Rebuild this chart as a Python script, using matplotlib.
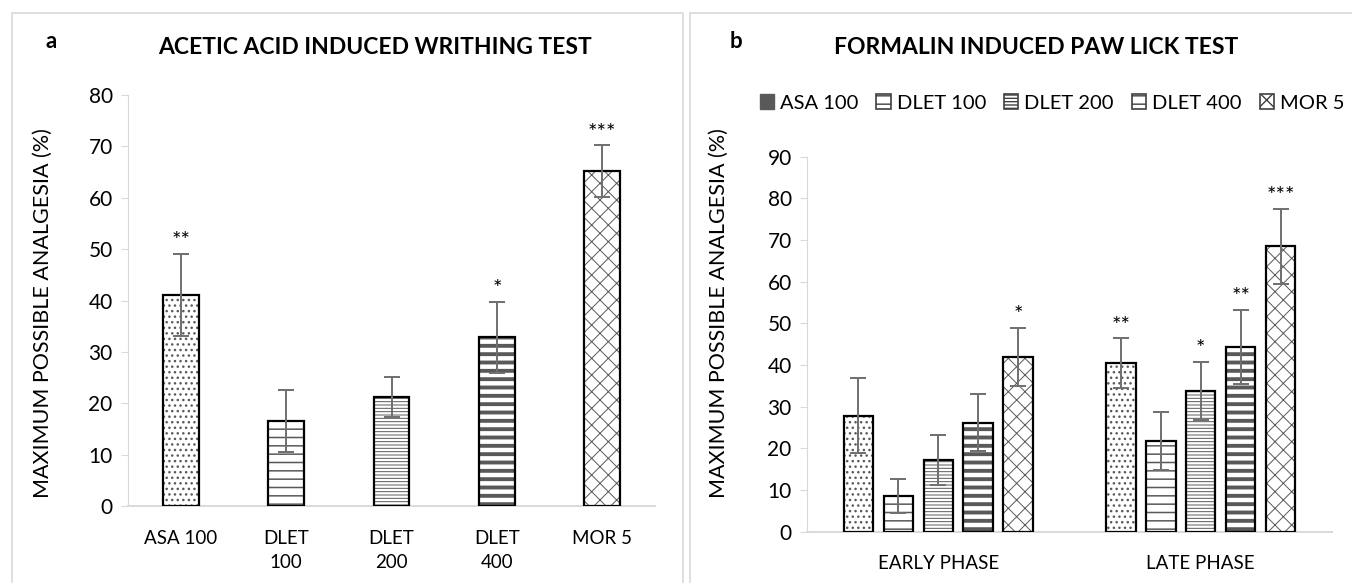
import matplotlib.pyplot as plt
import numpy as np
from matplotlib.patches import Patch, Rectangle

plt.rcParams.update(
    {
        "font.family": ["Lato", "DejaVu Sans"],
        "font.size": 14,
        "hatch.color": "#595959",
    }
)

# ---- data -------------------------------------------------------------
groups_a = ["ASA 100", "DLET\n100", "DLET\n200", "DLET\n400", "MOR 5"]
mpa_a = [41.1, 16.5, 21.3, 32.8, 65.2]
sem_a = [8.0, 6.0, 3.9, 7.0, 5.0]
sig_a = ["**", "", "", "*", "***"]

phases_b = ["EARLY PHASE", "LATE PHASE"]
treatments_b = ["ASA 100", "DLET 100", "DLET 200", "DLET 400", "MOR 5"]
early_mpa = [27.8, 8.6, 17.2, 26.2, 41.9]
early_sem = [9.0, 4.1, 6.0, 6.9, 7.0]
late_mpa = [40.4, 21.8, 33.8, 44.3, 68.5]
late_sem = [6.0, 7.0, 7.0, 8.9, 9.0]
early_sig = ["", "", "", "", "*"]
late_sig = ["**", "", "*", "**", "***"]

# ---- styles (one per treatment) ----------------------------------------
# (hatch, hatch linewidth)
patterns = [
    ("...", 1.0),
    ("--", 1.1),
    ("-----", 0.7),
    ("--", 2.8),
    ("xx", 0.7),
]
GRID_GREY = "#d9d9d9"
ERR_GREY = "#6f6f6f"


def hatched_bar(ax, x, h, w, style):
    hatch, hlw = style
    with plt.rc_context({"hatch.linewidth": hlw}):
        bars = ax.bar(x, h, w, color="white", edgecolor="#595959",
                      linewidth=0, hatch=hatch, zorder=2)
    for b in bars:
        if hasattr(b, "set_hatch_linewidth"):
            b.set_hatch_linewidth(hlw)
    ax.bar(x, h, w, fill=False, edgecolor="black", linewidth=1.6, zorder=3)


def style_axis(ax, ymax):
    ax.set_ylim(0, ymax)
    ax.set_yticks(np.arange(0, ymax + 1, 10))
    for s in ["top", "right"]:
        ax.spines[s].set_visible(False)
    ax.spines["left"].set_color(GRID_GREY)
    ax.spines["bottom"].set_color(GRID_GREY)
    ax.spines["bottom"].set_linewidth(1.4)
    ax.tick_params(axis="y", length=5, color=GRID_GREY, labelsize=15, pad=6)
    ax.tick_params(axis="x", length=0, labelsize=13.5, pad=17)
    ax.set_ylabel("MAXIMUM POSSIBLE ANALGESIA (%)", fontsize=15.5)


def stars(ax, x, top, label):
    if label:
        ax.annotate(label, (x, top), xytext=(0, 2), textcoords="offset points",
                    ha="center", va="bottom", fontsize=16, zorder=5)


fig = plt.figure(figsize=(13.52, 5.83), dpi=100)

# panel borders
fig.patches.append(Rectangle((12 / 1352, -0.1), 671 / 1352, 1.1 - 13 / 583,
                             transform=fig.transFigure, fill=False,
                             edgecolor=GRID_GREY, linewidth=1.2))
fig.patches.append(Rectangle((690 / 1352, -0.1), 700 / 1352, 1.1 - 13 / 583,
                             transform=fig.transFigure, fill=False,
                             edgecolor=GRID_GREY, linewidth=1.2))

# ---- panel a -----------------------------------------------------------
ax1 = fig.add_axes([128 / 1352, 1 - 506 / 583, 527 / 1352, 411 / 583])
xa = np.arange(len(groups_a))
for i in range(len(groups_a)):
    hatched_bar(ax1, xa[i], mpa_a[i], 0.34, patterns[i])
ax1.errorbar(xa, mpa_a, yerr=sem_a, fmt="none", ecolor=ERR_GREY,
             elinewidth=1.4, capsize=6, capthick=1.4, zorder=4)
for i in range(len(groups_a)):
    stars(ax1, xa[i], mpa_a[i] + sem_a[i], sig_a[i])
ax1.set_xlim(-0.5, len(groups_a) - 0.5)
ax1.set_xticks(xa)
ax1.set_xticklabels(groups_a, linespacing=1.5)
style_axis(ax1, 80)
ax1.yaxis.set_label_coords(-0.142, 0.47)

fig.text(51 / 1352, 1 - 42 / 583, "a", fontsize=16, fontweight="bold",
         ha="center", va="center")
fig.text(375 / 1352, 1 - 48 / 583, "ACETIC ACID INDUCED WRITHING TEST",
         fontsize=16.5, fontweight="bold", ha="center", va="center")

# ---- panel b -----------------------------------------------------------
ax2 = fig.add_axes([807 / 1352, 1 - 531.7 / 583, 525 / 1352, 375 / 583])
xb = np.arange(len(phases_b))
step, width = 0.152, 0.112
for i in range(len(treatments_b)):
    pos = xb + (i - 2) * step
    vals = [early_mpa[i], late_mpa[i]]
    errs = [early_sem[i], late_sem[i]]
    hatched_bar(ax2, pos, vals, width, patterns[i])
    ax2.errorbar(pos, vals, yerr=errs, fmt="none", ecolor=ERR_GREY,
                 elinewidth=1.4, capsize=6, capthick=1.4, zorder=4)
    stars(ax2, pos[0], early_mpa[i] + early_sem[i], early_sig[i])
    stars(ax2, pos[1], late_mpa[i] + late_sem[i], late_sig[i])
ax2.set_xlim(-0.5, len(phases_b) - 0.5)
ax2.set_xticks(xb)
ax2.set_xticklabels(phases_b)
style_axis(ax2, 90)
ax2.yaxis.set_label_coords(-0.149, 0.583)

fig.text(736 / 1352, 1 - 42 / 583, "b", fontsize=16, fontweight="bold",
         ha="center", va="center")
fig.text(1036 / 1352, 1 - 48 / 583, "FORMALIN INDUCED PAW LICK TEST",
         fontsize=16.5, fontweight="bold", ha="center", va="center")

handles = [Patch(facecolor="#595959", edgecolor="#595959", label=treatments_b[0])]
for i in range(1, len(treatments_b)):
    handles.append(Patch(facecolor="white", edgecolor="#404040", linewidth=1.2,
                         hatch=patterns[i][0], label=treatments_b[i]))
fig.legend(handles=handles, loc="center", bbox_to_anchor=(1052 / 1352, 1 - 103 / 583),
           ncol=5, frameon=False, fontsize=14.5, handlelength=0.7, handleheight=0.7,
           handletextpad=0.3, columnspacing=0.9)

fig.savefig("out.png", dpi=100)
